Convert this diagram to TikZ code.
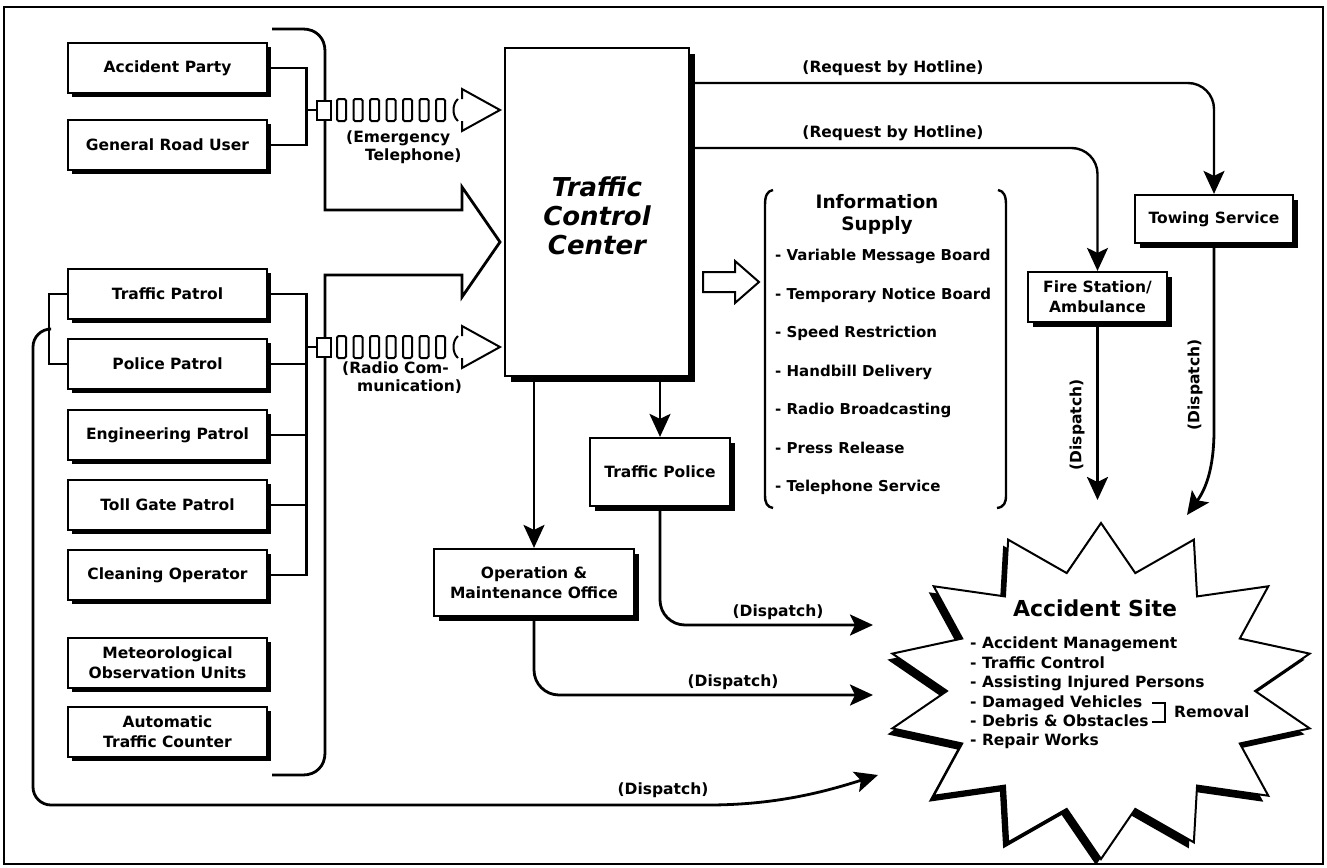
\documentclass[tikz,border=0pt]{standalone}
\usepackage{fontspec}
\setmainfont{DejaVu Sans}
\usetikzlibrary{arrows.meta,shadows,calc}

\begin{document}
\begin{tikzpicture}[x=1pt,y=-1pt,
  every node/.style={font=\bfseries\fontsize{15.5}{20}\selectfont, inner sep=0pt},
  unitbox/.style={draw, line width=2.2pt, fill=white, minimum width=199pt, minimum height=50pt, align=center,
     drop shadow={shadow xshift=4pt, shadow yshift=-4pt, fill=black, opacity=1}},
  dutybox/.style={draw, line width=2.2pt, fill=white, align=center,
     drop shadow={shadow xshift=4.5pt, shadow yshift=-4.5pt, fill=black, opacity=1}},
  link/.style={line width=2.8pt},
  arr/.style={line width=2.8pt, -{Stealth[length=23pt,width=21pt,inset=5pt]}},
  lbl/.style={font=\bfseries\fontsize{15.5}{18}\selectfont},
  chain/.style={line width=2pt, rounded corners=1.5pt},
]
\useasboundingbox (0,0) rectangle (1327,867);
% outer frame
\draw[line width=2.4pt] (4,7) rectangle (1323,864);

% ---- sources on the left ----
\node[unitbox] (ap)  at (167.5,68)  {Accident Party};
\node[unitbox] (gru) at (167.5,145) {General Road User};
\node[unitbox] (tp)  at (167.5,294) {Traffic Patrol};
\node[unitbox] (pp)  at (167.5,364) {Police Patrol};
\node[unitbox] (ep)  at (167.5,435) {Engineering Patrol};
\node[unitbox] (tg)  at (167.5,505) {Toll Gate Patrol};
\node[unitbox] (co)  at (167.5,575) {Cleaning Operator};
\node[unitbox] (mo)  at (167.5,663) {Meteorological\\Observation Units};
\node[unitbox] (atc) at (167.5,732) {Automatic\\Traffic Counter};

% bus lines joining the sources
\draw[link] (ap.east) -- ++(38,0) |- (gru.east);
\draw[link] (tp.east) -- ++(38,0) |- (co.east);
\draw[link] (pp.east) -- ++(38,0);
\draw[link] (ep.east) -- ++(38,0);
\draw[link] (tg.east) -- ++(38,0);
\draw[link] (tp.west) -- ++(-18,0) |- (pp.west);

% big bracket arrow feeding the control center
\draw[line width=2.8pt, line join=miter]
  (272,29) -- (303,29) .. controls (316,29) and (325,38) .. (325,51)
  -- (325,210) -- (462,210) -- (462,187) -- (500,242) -- (462,297) -- (462,275) -- (325,275)
  -- (325,753) .. controls (325,766) and (316,775) .. (303,775) -- (272,775);

% emergency telephone link
\coordinate (busE) at (305,110);
\node[draw, line width=2pt, fill=white, minimum width=14pt, minimum height=19pt] (sqE) at (324,110) {};
\draw[link] (busE) -- (sqE.west);
\foreach \i in {0,...,6} \draw[chain] (337+16.5*\i,99) rectangle ++(9,22);
\draw[line width=2pt] (458,99) .. controls (452,104) and (452,116) .. (458,121);
\draw[line width=2pt, line join=miter] (462,99) -- (462,89) -- (500,110) -- (462,131) -- (462,121);
\node[lbl, align=left, anchor=west] (etxt) at (346,147) {(Emergency\\\hspace*{19pt}Telephone)};

% radio communication link
\coordinate (busR) at (305,347);
\node[draw, line width=2pt, fill=white, minimum width=14pt, minimum height=19pt] (sqR) at (324,347) {};
\draw[link] (busR) -- (sqR.west);
\foreach \i in {0,...,6} \draw[chain] (337+16.5*\i,336) rectangle ++(9,22);
\draw[line width=2pt] (458,336) .. controls (452,341) and (452,353) .. (458,358);
\draw[line width=2pt, line join=miter] (462,336) -- (462,326) -- (500,347) -- (462,368) -- (462,358);
\node[lbl, align=left, anchor=west] (rtxt) at (342,378) {(Radio Com-\\\hspace*{15pt}munication)};

% ---- control center ----
\node[draw, line width=2.4pt, fill=white, minimum width=184pt, minimum height=328pt,
      drop shadow={shadow xshift=6pt, shadow yshift=-6pt, fill=black, opacity=1}] (tcc) at (597,212) {};
\node[align=center, font=\bfseries\itshape\fontsize{26}{29}\selectfont] (tcct) at (597,216) {Traffic\\Control\\Center};

% ---- responders ----
\node[dutybox, minimum width=158pt, minimum height=48pt] (tow) at (1214,219) {Towing Service};
\node[dutybox, minimum width=139pt, minimum height=50pt] (fire) at (1097.5,297) {Fire Station/\\Ambulance};
\node[dutybox, minimum width=140pt, minimum height=68pt] (tpol) at (660,472) {Traffic Police};
\node[dutybox, minimum width=200pt, minimum height=67pt] (om) at (534,582.5) {Operation \&\\Maintenance Office};

\coordinate (h1) at (0,83);
\coordinate (h2) at (0,148);
\draw[arr, line width=2.4pt, rounded corners=26pt] (tcc.east |- h1) -| (tow.north);
\draw[arr, line width=2.4pt, rounded corners=26pt] (tcc.east |- h2) -| (fire.north);
\node[lbl] (hl1) at (893,68)  {(Request by Hotline)};
\node[lbl] (hl2) at (893,133) {(Request by Hotline)};

\draw[arr] (tcc.south -| tpol.north) -- (tpol.north);
\draw[arr] (tcc.south -| om.north) -- (om.north);

% ---- information supply ----
\draw[line width=2pt, fill=white, line join=miter] (703,272) -- (735,272) -- (735,261) -- (759,282) -- (735,303) -- (735,292) -- (703,292) -- cycle;
\draw[line width=2.4pt] (773,190) .. controls (767,191) and (765,196) .. (765,205) -- (765,495) .. controls (765,503) and (767,507) .. (773,508);
\draw[line width=2.4pt] (998,190) .. controls (1004,191) and (1006,196) .. (1006,205) -- (1006,495) .. controls (1006,503) and (1004,507) .. (997,508);
\node[font=\bfseries\fontsize{18.5}{22}\selectfont, align=center] (infot) at (877,214) {Information\\Supply};
\node[anchor=north west, align=left, font=\bfseries\fontsize{15}{38.5}\selectfont] (infol) at (775,249)
  {- Variable Message Board\\- Temporary Notice Board\\- Speed Restriction\\- Handbill Delivery\\- Radio Broadcasting\\- Press Release\\- Telephone Service};

% ---- accident site ----
\begin{scope}[shift={(-5,6)}]
\fill[black] plot[samples at={0,...,27}, variable=\k]
  ({1101+214*(1-0.28*mod(\k,2))*cos(90+\k*360/28)}, {691-168*(1-0.28*mod(\k,2))*sin(90+\k*360/28)}) -- cycle;
\end{scope}
\draw[line width=2pt, fill=white, line join=miter] plot[samples at={0,...,27}, variable=\k]
  ({1101+214*(1-0.28*mod(\k,2))*cos(90+\k*360/28)}, {691-168*(1-0.28*mod(\k,2))*sin(90+\k*360/28)}) -- cycle;
\node[font=\bfseries\fontsize{22}{26}\selectfont] (site) at (1095,608) {Accident Site};
\node[anchor=north west, align=left, font=\bfseries\fontsize{15.5}{19.4}\selectfont] (sitel) at (970,637)
  {- Accident Management\\- Traffic Control\\- Assisting Injured Persons\\- Damaged Vehicles\\- Debris \& Obstacles\\- Repair Works};
\draw[line width=2pt] (1152,703) -- (1165,703) -- (1165,722) -- (1152,722);
\node[anchor=west, font=\bfseries\fontsize{15.5}{18}\selectfont] (rem) at (1174,712) {Removal};

% ---- dispatch connectors ----
\coordinate (d1) at (873,625);
\coordinate (d2) at (873,695);
\coordinate (d3) at (1097.5,500);
\coordinate (d4) at (1187,515);
\coordinate (d5) at (878,775);
\coordinate (lp) at (50,329);

\draw[arr, rounded corners=25pt] (tpol.south) |- (d1);
\node[lbl] (dl1) at (778,612) {(Dispatch)};
\draw[arr, rounded corners=25pt] (om.south) |- (d2);
\node[lbl] (dl2) at (733,682) {(Dispatch)};
\draw[arr] (fire.south) -- (d3);
\node[lbl, rotate=90] (dl3) at (1077,425) {(Dispatch)};
\draw[arr] (tow.south) -- (1214,430) .. controls (1214,470) and (1205,490) .. (d4);
\node[lbl, rotate=90] (dl4) at (1195,385) {(Dispatch)};
\draw[arr, rounded corners=18pt] (lp) -| (33,560) |- (690,805) .. controls (780,805) and (830,790) .. (d5);
\node[lbl] (dl5) at (663,790) {(Dispatch)};
\end{tikzpicture}
\end{document}
